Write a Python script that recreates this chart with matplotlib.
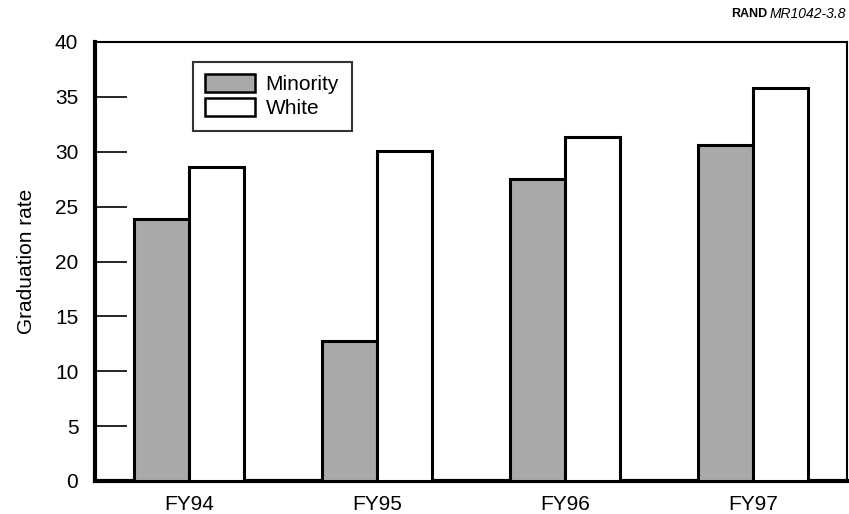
import matplotlib
matplotlib.use("Agg")
import matplotlib.pyplot as plt
import numpy as np

plt.rcParams['font.family'] = ['Liberation Sans', 'DejaVu Sans']

categories = ["FY94", "FY95", "FY96", "FY97"]
minority = [23.9, 12.8, 27.5, 30.6]
white = [28.6, 30.1, 31.3, 35.8]
yticks = [0, 5, 10, 15, 20, 25, 30, 35, 40]

fig = plt.figure(figsize=(8.49, 5.14), dpi=100)
ax = fig.add_axes([95/849, 1-481/514, 752/849, (481-42)/514])

x = np.arange(len(categories))
w = 0.29
ax.bar(x - w/2, minority, width=w, facecolor='#a9a9a9', edgecolor='black', linewidth=2.2,
       label='Minority', zorder=3)
ax.bar(x + w/2, white, width=w, facecolor='white', edgecolor='black', linewidth=2.2,
       label='White', zorder=3)

ax.set_xlim(-0.5, 3.5)
ax.set_ylim(0, 40)
ax.set_yticks(yticks)
ax.set_yticklabels([str(t) for t in yticks], fontsize=15)
ax.set_xticks(x)
ax.set_xticklabels(categories, fontsize=15)
ax.tick_params(axis='y', direction='in', length=23, width=1.2, pad=12)
ax.tick_params(axis='x', length=0, pad=10)
ax.set_ylabel('Graduation rate', fontsize=15, labelpad=14)

ax.spines['left'].set_linewidth(3)
ax.spines['bottom'].set_linewidth(3)
ax.spines['top'].set_linewidth(1.5)
ax.spines['right'].set_linewidth(1.5)

leg = ax.legend(loc='upper left', bbox_to_anchor=(0.130, 0.955), fontsize=15,
                frameon=True, fancybox=False, edgecolor='black', handlelength=2.4,
                handleheight=0.9, borderpad=0.6, labelspacing=0.2, handletextpad=0.5,
                borderaxespad=0)
leg.get_frame().set_linewidth(1.5)
for h in leg.legend_handles:
    h.set_linewidth(1.8)

fig.text(0.861, 0.972, 'RAND', fontsize=9, fontweight='bold', ha='left', va='center')
fig.text(0.907, 0.972, 'MR1042-3.8', fontsize=10, style='italic', ha='left', va='center')

fig.savefig('out.png', dpi=100)
